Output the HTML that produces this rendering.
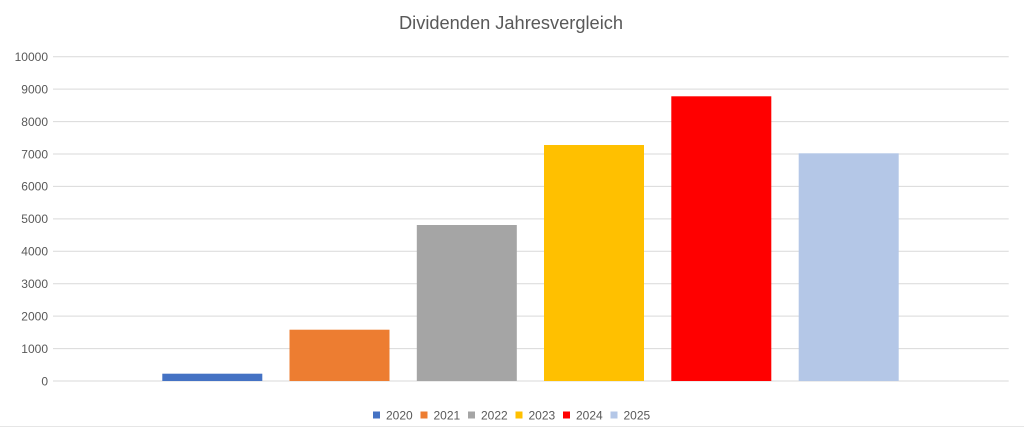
<!DOCTYPE html>
<html><head><meta charset="utf-8"><style>
html,body{margin:0;padding:0;background:#fff;}
svg{display:block;}
text{font-family:"Liberation Sans",sans-serif;fill:#595959;}
</style></head><body>
<svg width="1024" height="427" viewBox="0 0 1024 427" xmlns="http://www.w3.org/2000/svg">
<rect width="1024" height="427" fill="#fff"/>
<text x="511" y="29" font-size="18" text-anchor="middle" textLength="224" lengthAdjust="spacingAndGlyphs">Dividenden Jahresvergleich</text>
<g stroke="#d9d9d9" stroke-width="1">
<line x1="53" y1="56.7" x2="1008.7" y2="56.7"/>
<line x1="53" y1="89.1" x2="1008.7" y2="89.1"/>
<line x1="53" y1="121.6" x2="1008.7" y2="121.6"/>
<line x1="53" y1="154.0" x2="1008.7" y2="154.0"/>
<line x1="53" y1="186.4" x2="1008.7" y2="186.4"/>
<line x1="53" y1="218.9" x2="1008.7" y2="218.9"/>
<line x1="53" y1="251.3" x2="1008.7" y2="251.3"/>
<line x1="53" y1="283.7" x2="1008.7" y2="283.7"/>
<line x1="53" y1="316.1" x2="1008.7" y2="316.1"/>
<line x1="53" y1="348.6" x2="1008.7" y2="348.6"/>
<line x1="53" y1="381" x2="1008.7" y2="381"/>
</g>
<g font-size="12" text-anchor="end">
<text x="48" y="61">10000</text>
<text x="48" y="93.4">9000</text>
<text x="48" y="125.9">8000</text>
<text x="48" y="158.3">7000</text>
<text x="48" y="190.7">6000</text>
<text x="48" y="223.2">5000</text>
<text x="48" y="255.6">4000</text>
<text x="48" y="288">3000</text>
<text x="48" y="320.4">2000</text>
<text x="48" y="352.9">1000</text>
<text x="48" y="385.3">0</text>
</g>
<rect x="162.3" y="373.7" width="100" height="7.3" fill="#4472c4"/>
<rect x="289.5" y="329.7" width="100" height="51.3" fill="#ed7d31"/>
<rect x="416.8" y="225" width="100" height="156" fill="#a5a5a5"/>
<rect x="544" y="145" width="100" height="236" fill="#ffc000"/>
<rect x="671.3" y="96.3" width="100" height="284.7" fill="#ff0000"/>
<rect x="798.7" y="153.3" width="100" height="227.7" fill="#b4c7e7"/>
<g font-size="12">
<rect x="373" y="411.5" width="7" height="7" fill="#4472c4"/><text x="386" y="419.5">2020</text>
<rect x="420.5" y="411.5" width="7" height="7" fill="#ed7d31"/><text x="433.5" y="419.5">2021</text>
<rect x="468" y="411.5" width="7" height="7" fill="#a5a5a5"/><text x="481" y="419.5">2022</text>
<rect x="515.5" y="411.5" width="7" height="7" fill="#ffc000"/><text x="528.5" y="419.5">2023</text>
<rect x="563" y="411.5" width="7" height="7" fill="#ff0000"/><text x="576" y="419.5">2024</text>
<rect x="610.5" y="411.5" width="7" height="7" fill="#b4c7e7"/><text x="623.5" y="419.5">2025</text>
</g>
<line x1="0" y1="426.5" x2="1024" y2="426.5" stroke="#e6e6e6" stroke-width="1"/>
</svg>
</body></html>
